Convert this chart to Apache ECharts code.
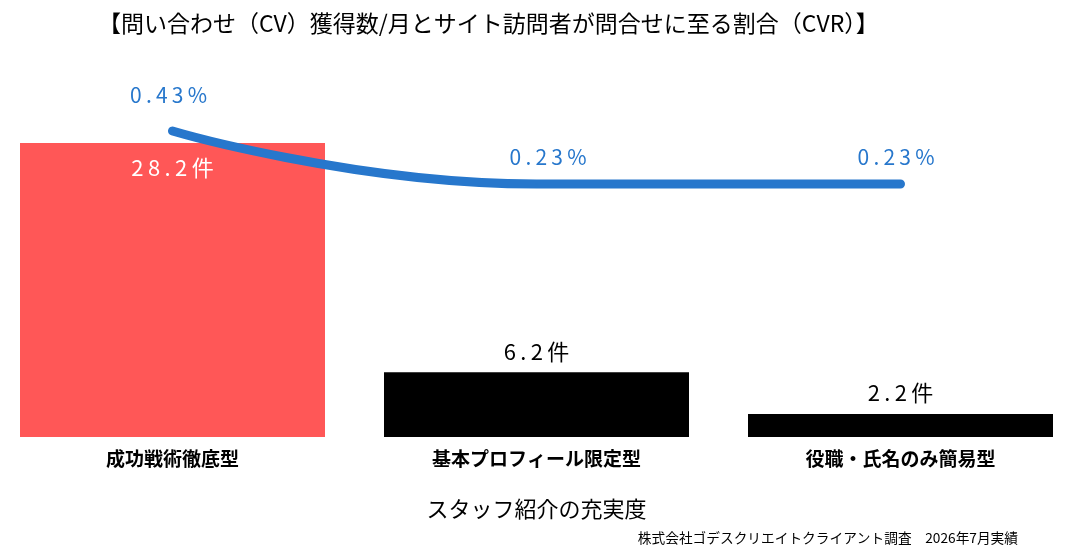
<!DOCTYPE html>
<html>
<head>
<meta charset="utf-8">
<script src="https://cdn.jsdelivr.net/npm/echarts@6/dist/echarts.min.js"></script>
<style>
  html, body { margin: 0; padding: 0; background: #fff; }
  #chart { width: 1066px; height: 558px; }
</style>
</head>
<body>
<div id="chart"></div>
<script>
// カテゴリ（スタッフ紹介の充実度）
let categories = ['成功戦術徹底型', '基本プロフィール限定型', '役職・氏名のみ簡易型'];
// 問い合わせ（CV）獲得数/月
let cvCount = [28.2, 6.2, 2.2];
// CVR（%）
let cvRate = [0.43, 0.23, 0.23];
let barColors = ['#FF5757', '#000000', '#000000'];

let chart = echarts.init(document.getElementById('chart'));
let font = '"Noto Sans CJK JP", "Noto Sans", sans-serif';

// 文字間を少し空ける（参考画像の字間に合わせる）
function spaced(s) {
  return s.split('').join('\u2009');
}

let option = {
  backgroundColor: '#fff',
  textStyle: { fontFamily: font },
  title: [
    {
      text: '【問い合わせ（CV）獲得数/月とサイト訪問者が問合せに至る割合（CVR）】',
      left: 93,
      top: 7,
      textStyle: { fontSize: 23, fontWeight: 'normal', color: '#000', fontFamily: font }
    },
    {
      text: '株式会社ゴデスクリエイトクライアント調査　2026年7月実績',
      right: 43,
      bottom: 8,
      textStyle: { fontSize: 13.7, fontWeight: 'normal', color: '#000', fontFamily: font }
    }
  ],
  grid: { left: 172.5, right: 165.5, top: 20, bottom: 121, containLabel: false },
  xAxis: {
    type: 'category',
    data: categories,
    boundaryGap: false,
    axisLine: { show: false },
    axisTick: { show: false },
    splitLine: { show: false },
    axisLabel: { margin: 12, fontSize: 19, fontWeight: 'bold', color: '#000', fontFamily: font },
    name: 'スタッフ紹介の充実度',
    nameLocation: 'middle',
    nameGap: 61,
    nameTextStyle: { fontSize: 22, color: '#000', fontFamily: font }
  },
  yAxis: [
    { type: 'value', min: 0, max: 40, show: false },
    { type: 'value', min: -0.725, max: 0.849, show: false }
  ],
  series: [
    {
      name: 'CV',
      type: 'bar',
      barWidth: 305,
      clip: false,
      data: cvCount.map((v, i) => ({
        value: v,
        itemStyle: { color: barColors[i] },
        label: i === 0
          ? { position: 'insideTop', distance: 14, color: '#fff' }
          : { position: 'top', distance: 10, color: '#000' }
      })),
      label: {
        show: true,
        fontSize: 22,
        fontFamily: font,
        formatter: p => spaced(p.value + '件')
      }
    },
    {
      name: 'CVR',
      type: 'line',
      yAxisIndex: 1,
      smooth: true,
      showSymbol: true,
      symbol: 'circle',
      symbolSize: 2,
      itemStyle: { color: '#2777CC' },
      clip: false,
      data: cvRate.map((v, i) => ({
        value: v,
        label: i === 0
          ? { distance: 24, padding: [0, 8, 0, 0] }
          : (i === 1 ? { distance: 15, padding: [0, 0, 0, 23] } : { distance: 15, padding: [0, 9, 0, 0] })
      })),
      lineStyle: { width: 9, color: '#2777CC', cap: 'round' },
      label: {
        show: true,
        position: 'top',
        fontSize: 21,
        color: '#2777CC',
        fontFamily: font,
        formatter: p => spaced(p.value.toFixed(2) + '%')
      },
      labelLayout: { hideOverlap: false },
      z: 3
    }
  ]
};

chart.setOption(option);
</script>
</body>
</html>
